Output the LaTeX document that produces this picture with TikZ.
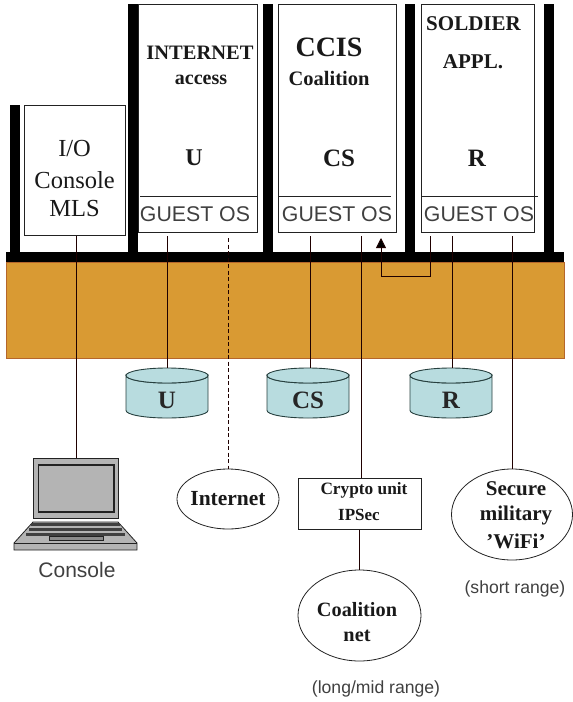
\documentclass[tikz,border=0pt]{standalone}
\usepackage{fontspec}
\setmainfont{Liberation Serif}
\newfontfamily\sansf{Liberation Sans}
\usetikzlibrary{arrows.meta,calc,shapes.geometric}
\definecolor{orangeb}{HTML}{D99A33}
\definecolor{orangeline}{HTML}{B5662B}
\definecolor{cylfill}{HTML}{B8DCDF}
\definecolor{cylline}{HTML}{27403F}
\definecolor{lapgray}{HTML}{B4B4B4}
\definecolor{soft}{HTML}{222222}
\tikzset{
  vm/.style={draw=soft,line width=0.8pt,fill=white,inner sep=0pt,anchor=north west},
  pillar/.style={fill=black,draw=none},
  conn/.style={draw=black!88!red,line width=0.8pt},
  oval/.style={ellipse,draw=soft,line width=0.8pt,fill=white,inner sep=0pt},
  lab/.style={inner sep=0pt,align=center},
  rlab/.style={lab,font=\fontsize{24.5}{24.5}\selectfont,text=black!90},
  oslab/.style={lab,font=\fontsize{21.3}{21.3}\selectfont\sansf,text=black!75},
  nt/.style={lab,font=\fontsize{17.6}{17.6}\selectfont\sansf,text=black!75},
  cyl/.style={draw=cylline,line width=0.9pt,fill=cylfill},
}
\newcommand{\vmbox}[5]{\node[vm,minimum width=#4 pt,minimum height=#5 pt] (#1) at (#2,#3) {};}
\newcommand{\bt}[4]{\node[lab,font=\fontsize{#1}{#1}\selectfont\bfseries,text=black!90] at (#2,#3) {#4};}
\newcommand{\dbcyl}[3]{%
  \draw[cyl] (#2,375.5) -- (#2,410.5) arc[start angle=180,end angle=0,x radius=41,y radius=7.5]
    -- ($(#2,375.5)+(82,0)$) arc[start angle=0,end angle=180,x radius=41,y radius=7.5] -- cycle;
  \draw[cyl] ($(#2,375.5)+(41,0)$) ellipse[x radius=41,y radius=7.5];
  \node[lab,font=\fontsize{25}{25}\selectfont\bfseries,text=black!85,minimum width=82pt,minimum height=64pt] (#1) at ($(#2,400)+(41,0)$) {#3};}
\begin{document}
\begin{tikzpicture}[x=1pt,y=-1pt]
\useasboundingbox (0,0) rectangle (573,702);
% pillars
\fill[pillar] (10,105) rectangle (20,255);
\fill[pillar] (128,4) rectangle (138,255);
\fill[pillar] (263,4) rectangle (273,255);
\fill[pillar] (405,4) rectangle (415,255);
\fill[pillar] (544,4) rectangle (554,255);
% hypervisor
\node[draw=orangeline,line width=0.7pt,fill=orangeb,inner sep=0pt,minimum width=558pt,minimum height=96pt,anchor=north west] (hyp) at (5.5,262) {};
\node[fill=black,inner sep=0pt,minimum width=558pt,minimum height=10pt,anchor=north west] (bar) at (5.5,252) {};
% VM boxes
\vmbox{io}{24}{105}{101}{130}
\vmbox{vmu}{138}{4}{119}{228}
\vmbox{vmc}{277.5}{4}{118.5}{228}
\vmbox{vmr}{421}{4}{113}{228}
\draw[draw=soft,line width=0.7pt] (140,196) -- (257,196);
\draw[draw=soft,line width=0.7pt] (278,196) -- (391,196);
\draw[draw=soft,line width=0.7pt] (421,196) -- (538,196);
% box texts
\node[rlab] at (74.6,149) {I/O};
\node[rlab] at (74.6,180) {Console};
\node[rlab] at (74.6,209) {MLS};
\bt{20.5}{200}{53}{INTERNET}
\bt{20}{201}{80}{access}
\bt{24}{194}{158}{U}
\bt{28}{329}{47}{CCIS}
\bt{20.5}{329}{78}{Coalition}
\bt{25}{339}{158}{CS}
\bt{21}{473.5}{24}{SOLDIER}
\bt{21}{473}{62}{APPL.}
\bt{25}{477}{158}{R}
\node[oslab] at (195,214) {GUEST OS};
\node[oslab] at (337,214) {GUEST OS};
\node[oslab] at (479,214) {GUEST OS};
% databases
\dbcyl{dbu}{126}{U}
\dbcyl{dbc}{267}{CS}
\dbcyl{dbr}{410}{R}
% laptop
\node[draw=soft,line width=0.9pt,fill=lapgray,inner sep=0pt,minimum width=85pt,minimum height=60pt,anchor=north west] (lap) at (33,458) {};
\draw[soft,line width=1.1pt] (38.5,465) rectangle (114,512);
\draw[soft,line width=0.8pt,fill=lapgray] (33,522) -- (118,522) -- (137,543) -- (137,550) -- (14,550) -- (14,543) -- cycle;
\draw[soft,line width=0.8pt] (14,543) -- (137,543);
\fill[black!75] (31,523) rectangle (120,525.5);
\fill[black!75] (29,528) rectangle (122,531);
\fill[black!75] (26,533) rectangle (125,535.5);
\draw[soft,line width=0.8pt,fill=black!45] (49,536) rectangle (103,540);
\node[lab,font=\fontsize{21}{21}\selectfont\sansf,text=black!75] at (77,570) {Console};
% ovals and boxes
\node[oval,minimum width=102pt,minimum height=60pt] (inet) at (228,499) {};
\bt{21.5}{228}{499}{Internet}
\node[draw=soft,line width=0.9pt,fill=white,inner sep=0pt,minimum width=123pt,minimum height=51pt,anchor=north west] (crypto) at (298,478) {};
\bt{17.3}{364}{490}{Crypto unit}
\bt{17}{359}{515}{IPSec}
\node[oval,minimum width=123pt,minimum height=91pt] (coal) at (359.5,615.5) {};
\bt{20.3}{357}{610}{Coalition}
\bt{20.3}{357}{636}{net}
\node[oval,minimum width=121pt,minimum height=91pt] (wifi) at (512,514.5) {};
\bt{21}{516}{489}{Secure}
\bt{21}{516}{515}{military}
\bt{21}{516}{541}{'WiFi'}
\node[nt] at (515,589) {(short range)};
\node[nt] at (376,689) {(long/mid range)};
% connectors
\coordinate (xio) at (76,236);
\coordinate (xu) at (167.5,236);
\coordinate (xi) at (228,238);
\coordinate (xc) at (310,236);
\coordinate (xk) at (361,236);
\coordinate (xa) at (381,238);
\coordinate (xb) at (430.5,236);
\coordinate (xr) at (452,236);
\coordinate (xw) at (512,236);
\coordinate (xn) at (359,0);
\coordinate (turn) at (381,276);
\draw[conn] (xio) -- (xio |- lap.north);
\draw[conn] (xu) -- (xu |- dbu.north);
\draw[conn,dash pattern=on 4pt off 2.5pt] (xi) -- (xi |- inet.north);
\draw[conn] (xc) -- (xc |- dbc.north);
\draw[conn] (xk) -- (xk |- crypto.north);
\draw[conn] (xr) -- (xr |- dbr.north);
\draw[conn] (xw) -- (xw |- wifi.north);
\draw[conn] (xn |- crypto.south) -- (xn |- coal.north);
\draw[conn,-{Triangle[length=10pt,width=10pt,fill=black]}] (xb) |- (turn) -- (xa);
\end{tikzpicture}
\end{document}
